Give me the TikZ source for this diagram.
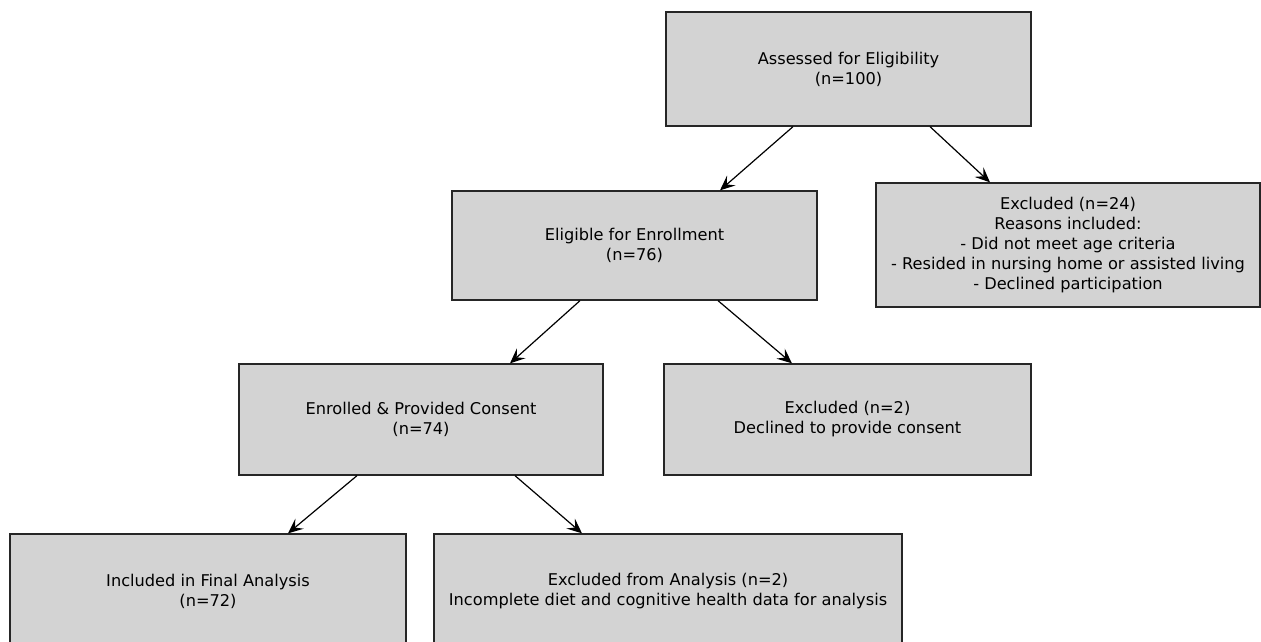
\documentclass[tikz,border=0pt]{standalone}
\usepackage{fontspec}
\setmainfont{DejaVu Sans}
\usetikzlibrary{arrows.meta}

\tikzset{
  stagebox/.style={draw=black!85, fill=boxgray, line width=1.3pt, inner sep=0pt,
    align=center, font=\fontsize{16.2}{20}\selectfont},
  flowarrow/.style={draw=black, line width=1.2pt, -{Stealth[length=15pt, width=13pt, inset=6pt]}}
}
\definecolor{boxgray}{RGB}{211,211,211}

\begin{document}
\begin{tikzpicture}[x=1pt, y=-1pt]

  \useasboundingbox (0,0) rectangle (1261,642);

  % top
  \node[stagebox, minimum width=365pt, minimum height=114pt] (assessed) at (848.5,69)
    {Assessed for Eligibility\\(n=100)};

  % second row
  \node[stagebox, minimum width=365pt, minimum height=109pt] (eligible) at (634.5,245.5)
    {Eligible for Enrollment\\(n=76)};
  \node[stagebox, minimum width=384pt, minimum height=124pt] (excl24) at (1068,245)
    {Excluded (n=24)\\Reasons included:\\- Did not meet age criteria\\- Resided in nursing home or assisted living\\- Declined participation};

  % third row
  \node[stagebox, minimum width=364pt, minimum height=111pt] (enrolled) at (421,419.5)
    {Enrolled \& Provided Consent\\(n=74)};
  \node[stagebox, minimum width=367pt, minimum height=111pt] (exclconsent) at (847.5,419.5)
    {Excluded (n=2)\\Declined to provide consent};

  % bottom row
  \node[stagebox, minimum width=396pt, minimum height=114pt] (included) at (208,591)
    {Included in Final Analysis\\(n=72)};
  \node[stagebox, minimum width=468pt, minimum height=114pt] (exclanalysis) at (668,591)
    {Excluded from Analysis (n=2)\\Incomplete diet and cognitive health data for analysis};

  % arrows
  \draw[flowarrow] ([xshift=-55.5pt]assessed.south) -- ([xshift=85.5pt]eligible.north);
  \draw[flowarrow] ([xshift=81.5pt]assessed.south) -- ([xshift=-78pt]excl24.north);
  \draw[flowarrow] ([xshift=-54.5pt]eligible.south) -- ([xshift=89pt]enrolled.north);
  \draw[flowarrow] ([xshift=83.5pt]eligible.south) -- ([xshift=-55.5pt]exclconsent.north);
  \draw[flowarrow] ([xshift=-64pt]enrolled.south) -- ([xshift=80pt]included.north);
  \draw[flowarrow] ([xshift=94pt]enrolled.south) -- ([xshift=-86pt]exclanalysis.north);

\end{tikzpicture}
\end{document}
